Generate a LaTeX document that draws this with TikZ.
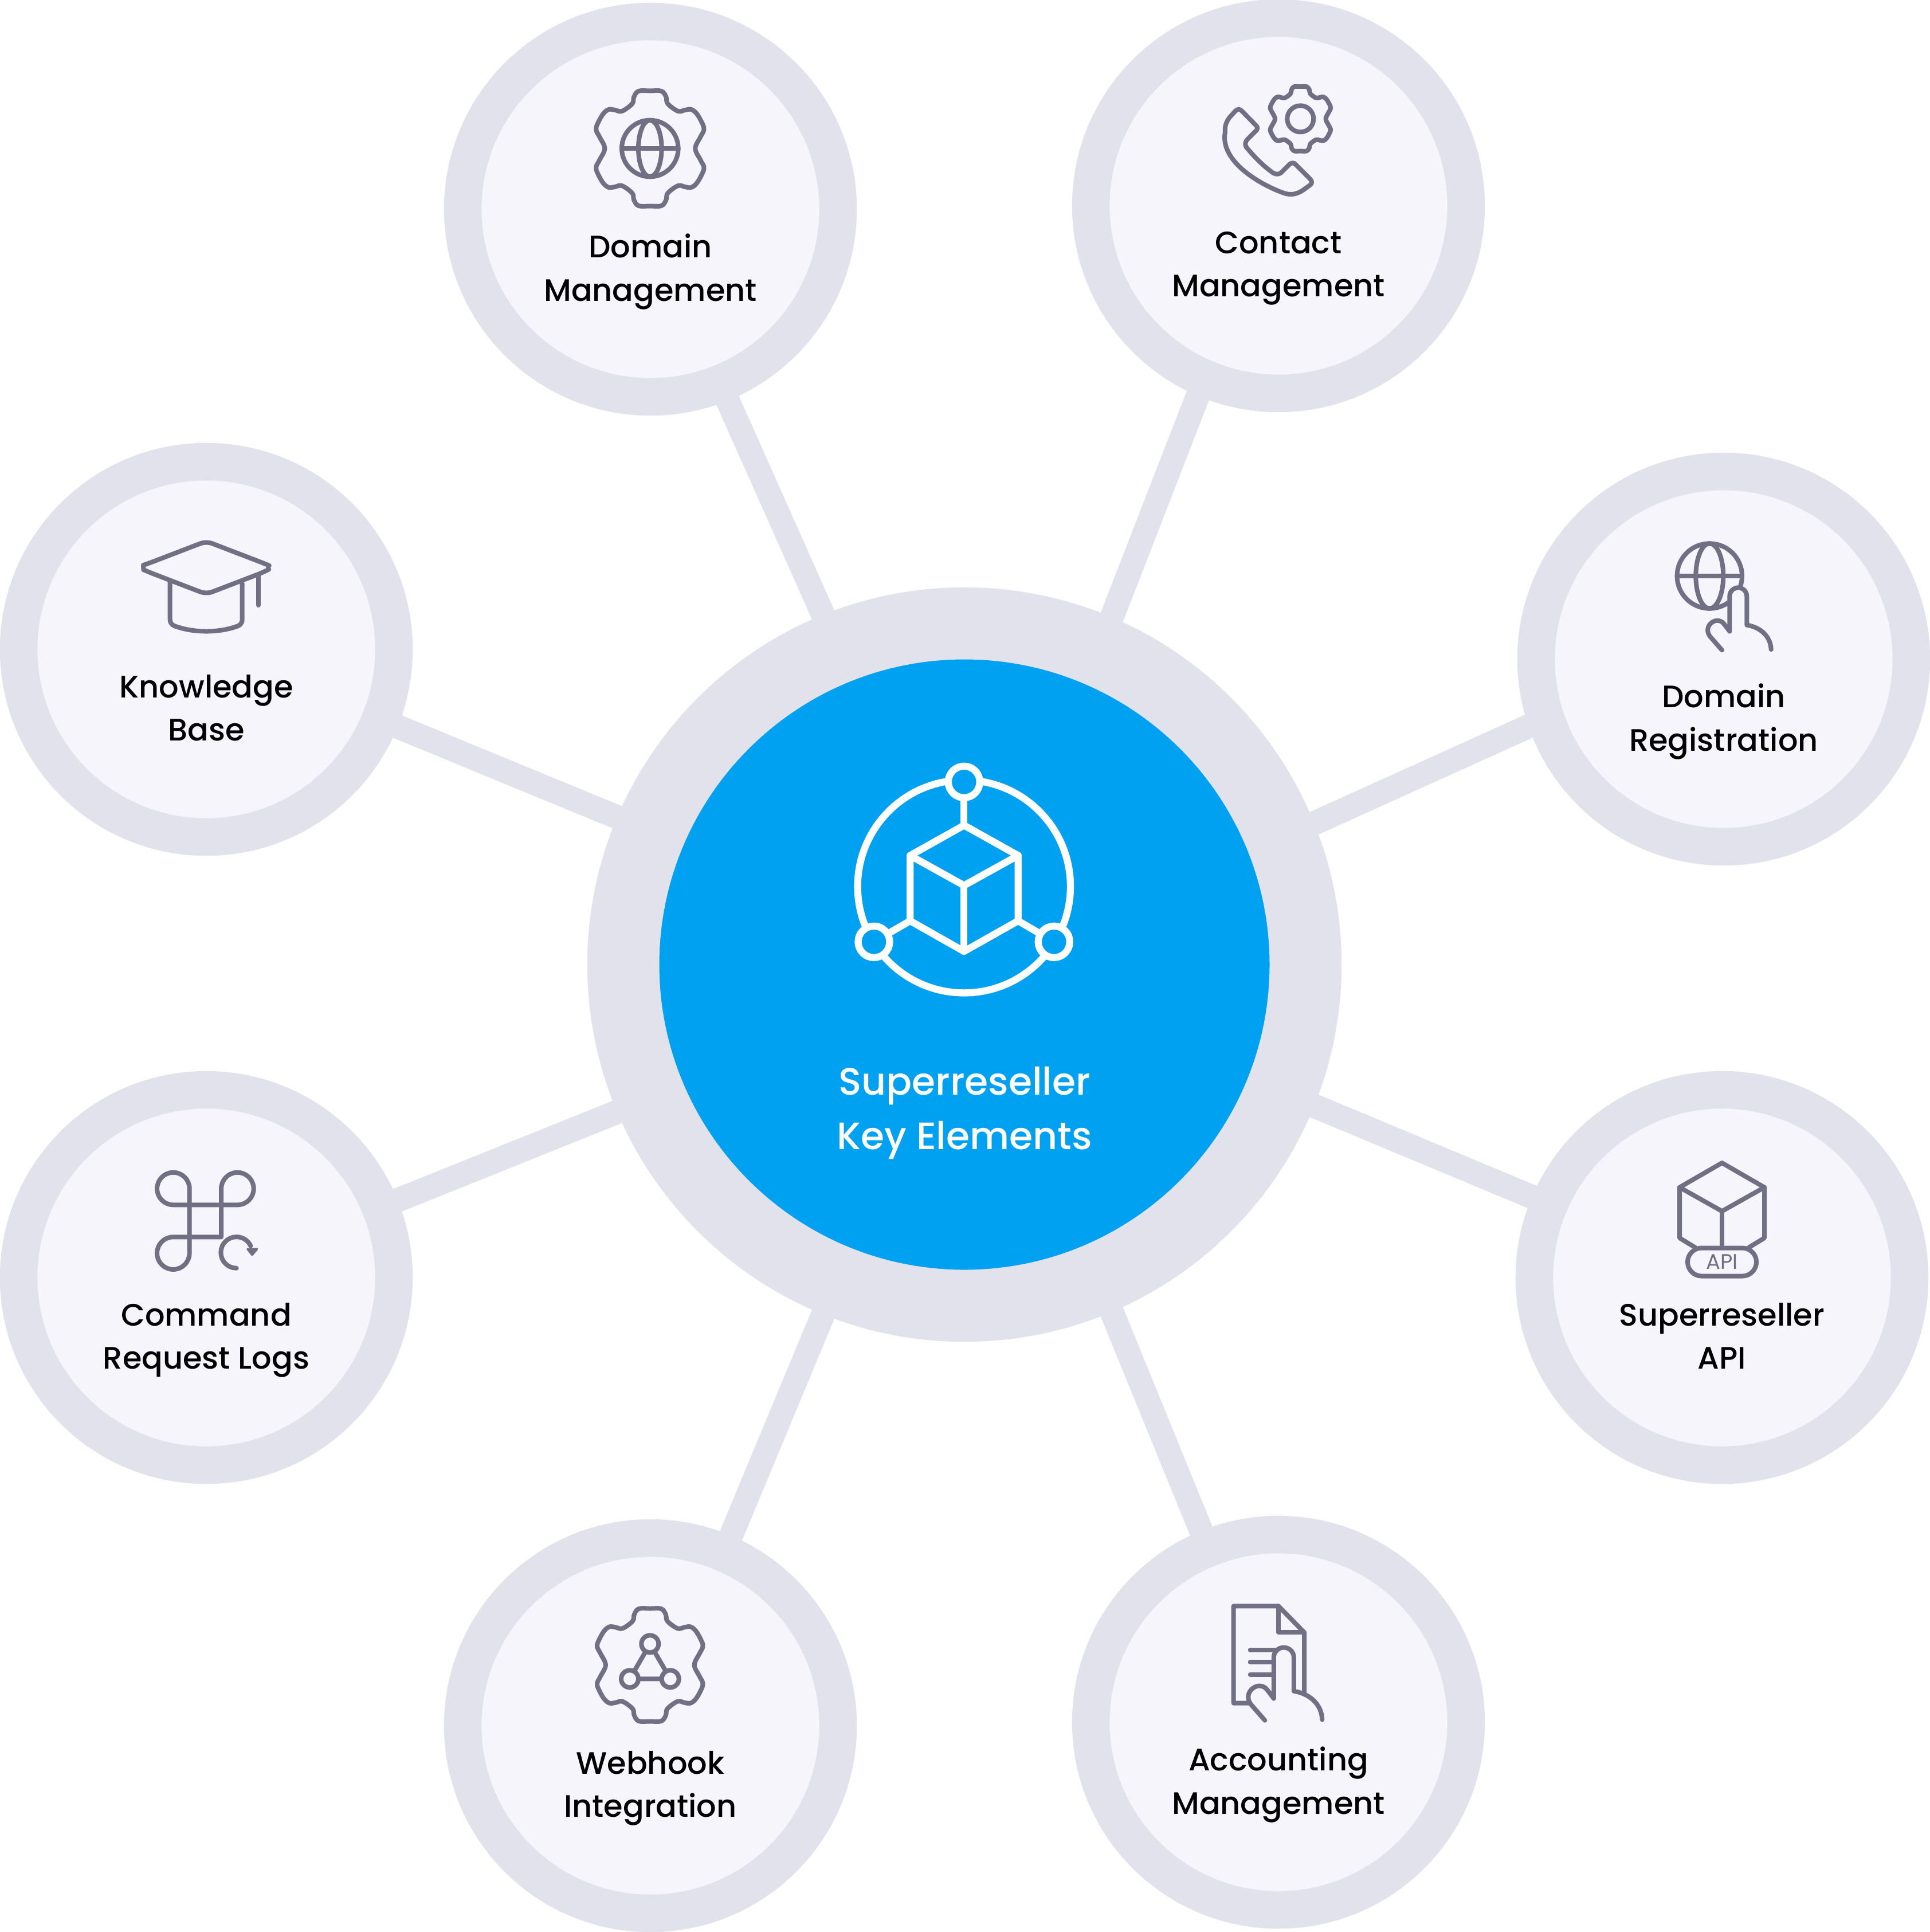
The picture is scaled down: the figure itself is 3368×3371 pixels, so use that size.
\documentclass[tikz,border=0pt]{standalone}
\usepackage{fontspec}
\setmainfont{Poppins Medium}
\newfontfamily\apifont{Poppins}
\usetikzlibrary{backgrounds,shapes.misc}
\definecolor{kring}{HTML}{E1E2EC}
\definecolor{ksat}{HTML}{F5F5FB}
\definecolor{khub}{HTML}{01A1F1}
\definecolor{kico}{HTML}{706F84}
\tikzset{
  hubnode/.style={circle, draw=kring, fill=khub, line width=12.56mm, minimum size=11.9cm},
  satnode/.style={circle, draw=kring, fill=ksat, line width=6.55mm, minimum size=6.545cm},
  spoke/.style={draw=kring, line width=4.2mm, shorten >=-2pt, shorten <=-2pt},
  satlbl/.style={black, align=center, font=\fontsize{15.4}{21.4}\selectfont,
                 execute at begin node=\strut, execute at end node=\strut},
  hublbl/.style={white, align=center, font=\fontsize{18.9}{27}\selectfont},
  ico/.style={draw=kico, line width=0.8mm, line join=round, line cap=round},
  hubico/.style={draw=white, line width=1.23mm, line join=round, line cap=round},
  hubdot/.style={circle, draw=white, fill=khub, line width=1.23mm, minimum size=0.55cm, inner sep=0pt},
  webdot/.style={circle, draw=kico, fill=ksat, line width=0.8mm, minimum size=0.30cm, inner sep=0pt},
  apipill/.style={rounded rectangle, draw=kico, fill=ksat, line width=0.8mm, text=kico, inner sep=0pt,
                  minimum width=1.2cm, minimum height=0.49cm, font=\apifont\fontsize{10.5}{11}\selectfont},
}
% gear outline, centre and size as arguments
\newcommand{\gearico}[3]{%
  \begin{scope}[shift={(#1,#2)},scale=#3]
    \draw[ico] plot[smooth cycle,tension=0.6] coordinates {
      (0,-100.5) (20,-100) (28,-90) (31,-78) (49,-65) (61,-67) (72,-68) (82,-60) (92,-42) (94,-32) (88,-20) (79,0)
      (88,20) (94,32) (92,42) (82,60) (72,68) (61,67) (49,65) (31,78) (28,90) (20,100) (0,100.5)
      (-20,100) (-28,90) (-31,78) (-49,65) (-61,67) (-72,68) (-82,60) (-92,42) (-94,32) (-88,20) (-79,0)
      (-88,-20) (-94,-32) (-92,-42) (-82,-60) (-72,-68) (-61,-67) (-49,-65) (-31,-78) (-28,-90) (-20,-100)};
  \end{scope}}
% globe: centre, radius, meridian width
\newcommand{\globeico}[4]{%
  \draw[ico] (#1,#2) circle[radius=#3];
  \draw[ico] (#1,#2) ellipse[x radius=#4, y radius=#3];
  \draw[ico] (#1-#3,#2) -- (#1+#3,#2);}
% pointing hand, filled so that it hides what is behind it
\newcommand{\handico}[3]{%
  \begin{scope}[shift={(#1,#2)},scale=#3]
    \draw[ico, fill=ksat] (0,0) -- (-21,-24) .. controls (-27,-32) and (-26,-42) .. (-18,-48)
      .. controls (-10,-54) and (-1,-52) .. (4,-45) -- (13.3,-32.7) -- (13.3,-94)
      arc (180:360:15) -- (43.3,-43.7) .. controls (67,-40) and (85,-24) .. (85.7,-1);
  \end{scope}}

\begin{document}
\begin{tikzpicture}[x=0.01cm,y=-0.01cm]
  \useasboundingbox (0,0) rectangle (3368,3371);

  \node[hubnode] (hub) at (1683,1683) {};
  \node[hublbl] (hubtxt) at (1683,1942) {Superreseller\\Key Elements};

  \foreach \n/\x/\y/\lab in {dommgmt/1135/365/{Domain\\Management},
                             contact/2231/359/{Contact\\Management},
                             domreg/3008/1150/{Domain\\Registration},
                             apinode/3005/2229/{Superreseller\\API},
                             account/2231/3005/{Accounting\\Management},
                             webhook/1135/3011/{Webhook\\Integration},
                             cmdlogs/360/2229/{Command\\Request Logs},
                             knowbase/360/1133/{Knowledge\\Base}}
  {
    \node[satnode] (\n) at (\x,\y) {};
    \node[satlbl] (\n txt) at (\x,\y+113) {\lab};
  }

  \begin{scope}[on background layer]
    \foreach \n/\a/\b in {dommgmt/112.5/292.5, contact/67.5/247.5, domreg/22.5/199.6, apinode/-22.5/157.5,
                          account/-67.5/112.5, webhook/-112.5/67.5, cmdlogs/-157.5/22.5, knowbase/157.5/-22.5}
      \draw[spoke] (hub.\a) -- (\n.\b);
  \end{scope}

  % hub icon
  \coordinate (cubetop) at (1682.3,1440);
  \coordinate (cubel) at (1588.3,1606.7);
  \coordinate (cuber) at (1776.7,1606.7);
  \draw[hubico] (1682.3,1546.7) circle[radius=185.7];
  \node[hubdot] (dottop) at (1682.3,1364.3) {};
  \node[hubdot] (dotl) at (1525,1643.3) {};
  \node[hubdot] (dotr) at (1839.3,1643.3) {};
  \draw[hubico] (dottop) -- (cubetop);
  \draw[hubico] (dotl) -- (cubel);
  \draw[hubico] (dotr) -- (cuber);
  \draw[hubico] (cubetop) -- (1776.7,1492.7) -- (cuber) -- (1682.3,1660) -- (cubel) -- (1588.3,1492.7) -- cycle;
  \draw[hubico] (1588.3,1492.7) -- (1682.3,1545) -- (1776.7,1492.7);
  \draw[hubico] (1682.3,1545) -- (1682.3,1660);

  % domain management
  \gearico{1134.3}{259}{1}
  \globeico{1134.3}{259}{49.3}{20.3}

  % contact management
  \gearico{2269.3}{207.3}{0.56}
  \draw[ico] (2269.3,207.3) circle[radius=23];
  \draw[ico] (2150,200) -- (2156,193.5) .. controls (2159,190) and (2164,190) .. (2167,193.5) -- (2192,219)
    .. controls (2195,222) and (2195,225) .. (2192,228) -- (2177,243)
    .. controls (2173,247) and (2172,252) .. (2175,257)
    .. controls (2190,275) and (2205,290) .. (2222,302)
    .. controls (2228,305) and (2232,304) .. (2236,301) -- (2250,287)
    .. controls (2253,284) and (2258,283) .. (2261,287) -- (2286,312)
    .. controls (2290,316) and (2290,320) .. (2286,323) -- (2275,331)
    .. controls (2262,340) and (2251,341) .. (2238,336)
    .. controls (2200,322) and (2128,282) .. (2138,230)
    .. controls (2137,220) and (2140,210) .. (2150,200) -- cycle;

  % domain registration
  \globeico{2983.3}{1005}{56.7}{24}
  \handico{3005}{1134.3}{1}

  % superreseller api
  \draw[ico] (2958.3,2176.7) -- (2931,2160) -- (2931,2071.7) -- (3005,2029) -- (3079,2071.7) -- (3079,2160) -- (3051.7,2176.7);
  \draw[ico] (2931,2071.7) -- (3005,2113.3) -- (3079,2071.7);
  \draw[ico] (3005,2113.3) -- (3005,2176.7);
  \node[apipill] (apitag) at (3005,2202) {API};

  % accounting management
  \draw[ico] (2185,2971.7) -- (2152.7,2971.7) -- (2152.7,2802.3) -- (2231,2802.3) -- (2276,2848.3) -- (2276,2960);
  \draw[ico] (2231,2802.3) -- (2231,2848.3) -- (2276,2848.3);
  \foreach \y in {2878.7,2900,2921.7}
    \draw[ico] (2181.7,\y) -- (2225,\y);
  \handico{2207.3}{3001.7}{1.167}

  % webhook integration
  \gearico{1134.3}{2905}{0.98}
  \node[webdot] (webtop) at (1134.3,2868.3) {};
  \node[webdot] (webl) at (1099,2929.3) {};
  \node[webdot] (webr) at (1169.7,2929.3) {};
  \draw[ico] (webtop) -- (webl) -- (webr) -- (webtop);

  % command request logs
  \draw[ico] (386,2158.3) -- (302.3,2158.3) arc(-90:-360:28.3) -- (330.7,2074) arc(0:-270:28.3)
    -- (414.4,2102.3) arc(90:-180:28.3) -- cycle;
  \draw[ico] (412.7,2212.7) arc(90:335:27.3);
  \fill[kico, draw=kico, line width=0.4mm, line join=round] (432.3,2179.3) -- (448.3,2179.3) -- (440,2189.3) -- cycle;

  % knowledge base
  \draw[ico] (296.7,1015) -- (296.7,1080) .. controls (296.7,1090) and (303,1092) .. (310,1094)
    .. controls (340,1104) and (380,1104) .. (410,1094) .. controls (417,1092) and (422.7,1090) .. (422.7,1080) -- (422.7,1018);
  \draw[ico] (451,1005) -- (451,1056);
  \draw[ico, rounded corners=3] (360,944.3) -- (460,982.7) .. controls (468,986) and (468,994) .. (460,998.3)
    -- (360,1036.7) -- (260,998.3) .. controls (250.3,994) and (250.3,986) .. (260,982.7) -- cycle;
\end{tikzpicture}
\end{document}
